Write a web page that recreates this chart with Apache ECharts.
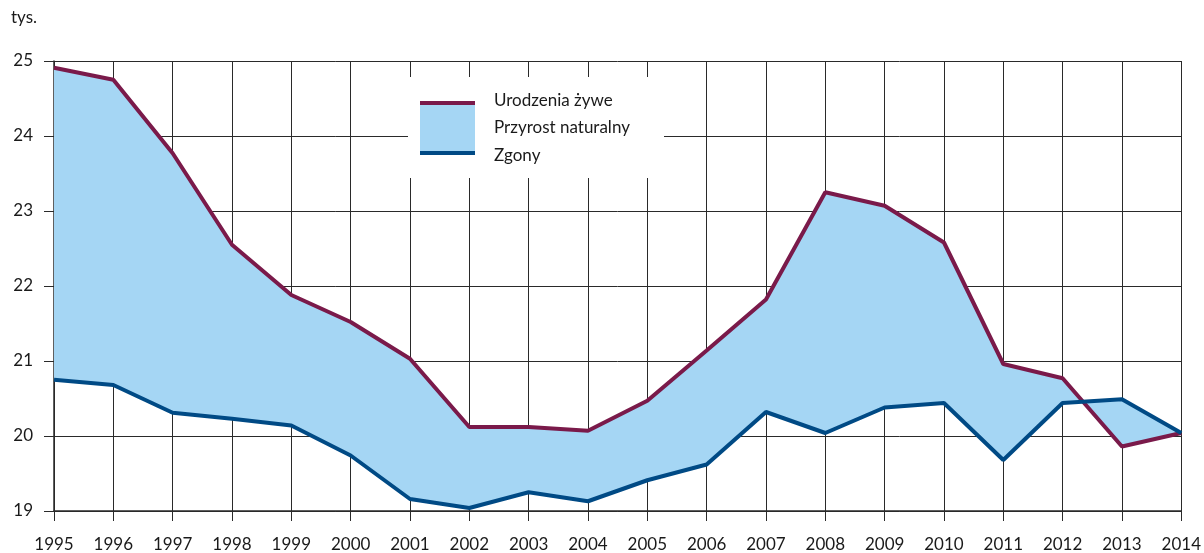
<!DOCTYPE html>
<html>
<head>
<meta charset="utf-8">
<script src="https://cdn.jsdelivr.net/npm/echarts@6/dist/echarts.min.js"></script>
<style>
html,body{margin:0;padding:0;background:#fff;}
#chart{width:1204px;height:553px;}
</style>
</head>
<body>
<div id="chart"></div>
<script>
var years = ['1995','1996','1997','1998','1999','2000','2001','2002','2003','2004','2005','2006','2007','2008','2009','2010','2011','2012','2013','2014'];
var births = [24.91,24.75,23.77,22.55,21.88,21.52,21.03,20.12,20.12,20.07,20.47,21.14,21.82,23.25,23.07,22.58,20.96,20.77,19.86,20.04];
var deaths = [20.75,20.68,20.31,20.23,20.14,19.74,19.16,19.04,19.25,19.13,19.41,19.62,20.32,20.04,20.38,20.44,19.68,20.44,20.49,20.04];
var yTicks = [19,20,21,22,23,24,25];
var unitLabel = 'tys.';
var legendNames = ['Urodzenia żywe','Przyrost naturalny','Zgony'];

var purple = '#7a1a4a';
var blue = '#004a85';
var fill = '#a5d6f4';
var gridColor = '#2a2a2a';
var font = 'Lato';
var txt = '#1a1a1a';

var chart = echarts.init(document.getElementById('chart'), null, {renderer:'canvas'});
chart.setOption({
  animation:false,
  textStyle:{fontFamily:font},
  grid:{left:54,right:19,top:61,bottom:40,containLabel:false},
  xAxis:{
    type:'category',
    data:years,
    boundaryGap:false,
    axisLine:{show:true,lineStyle:{color:gridColor,width:1.5}},
    axisTick:{show:true,length:10,interval:0,lineStyle:{color:gridColor,width:1}},
    axisLabel:{color:txt,fontSize:17,margin:25,interval:0,fontFamily:font},
    splitLine:{show:true,interval:0,lineStyle:{color:gridColor,width:1}}
  },
  yAxis:{
    type:'value',
    min:yTicks[0],max:yTicks[yTicks.length-1],interval:1,
    axisLine:{show:true,lineStyle:{color:gridColor,width:1.5}},
    axisTick:{show:true,length:10,lineStyle:{color:gridColor,width:1}},
    axisLabel:{color:txt,fontSize:17,margin:21,fontFamily:font},
    splitLine:{show:true,lineStyle:{color:gridColor,width:1}}
  },
  graphic:[
    {type:'text',left:11,top:9,style:{text:unitLabel,fontSize:17,fill:txt,fontFamily:font}},
    {type:'rect',shape:{x:408,y:77,width:256,height:101},style:{fill:'#fff'},z:100},
    {type:'rect',shape:{x:420,y:103,width:55,height:50},style:{fill:fill},z:101},
    {type:'line',shape:{x1:420,y1:103,x2:475,y2:103},style:{stroke:purple,lineWidth:4},z:102},
    {type:'line',shape:{x1:420,y1:153,x2:475,y2:153},style:{stroke:blue,lineWidth:4},z:102},
    {type:'text',x:494,y:101,style:{text:legendNames[0],fontSize:17,fill:txt,fontFamily:font,verticalAlign:'middle'},z:102},
    {type:'text',x:494,y:128,style:{text:legendNames[1],fontSize:17,fill:txt,fontFamily:font,verticalAlign:'middle'},z:102},
    {type:'text',x:494,y:156,style:{text:legendNames[2],fontSize:17,fill:txt,fontFamily:font,verticalAlign:'middle'},z:102}
  ],
  series:[
    {
      name:legendNames[1],
      type:'custom',
      coordinateSystem:'cartesian2d',
      data:[[0,births[0]]],
      z:1,
      renderItem:function(params,api){
        var pts=[];
        for(var i=0;i<births.length;i++){pts.push(api.coord([i,births[i]]));}
        for(var j=deaths.length-1;j>=0;j--){pts.push(api.coord([j,deaths[j]]));}
        return {type:'polygon',shape:{points:pts},style:{fill:fill,stroke:null}};
      }
    },
    {
      name:legendNames[0],type:'line',data:births,symbol:'none',z:3,
      lineStyle:{color:purple,width:4},itemStyle:{color:purple}
    },
    {
      name:legendNames[2],type:'line',data:deaths,symbol:'none',z:3,
      lineStyle:{color:blue,width:4},itemStyle:{color:blue}
    }
  ]
});
</script>
</body>
</html>
